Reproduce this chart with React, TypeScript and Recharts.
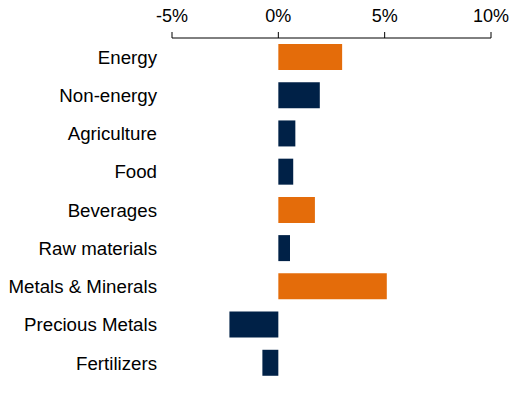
import React from "react";
import { BarChart, Bar, XAxis, YAxis, Cell } from "recharts";

const categories = [
  "Energy",
  "Non-energy",
  "Agriculture",
  "Food",
  "Beverages",
  "Raw materials",
  "Metals & Minerals",
  "Precious Metals",
  "Fertilizers",
];
const values = [3.0, 1.95, 0.8, 0.7, 1.72, 0.55, 5.1, -2.3, -0.75];
const highlighted = ["Energy", "Beverages", "Metals & Minerals"];
const xTicks = [-5, 0, 5, 10];

const ORANGE = "#E46C0A";
const NAVY = "#002147";

const data = categories.map((c, i) => ({ name: c, value: values[i] }));

export default function App() {
  const font = { fontFamily: "'Liberation Sans', Arial, sans-serif", fontSize: 18, fill: "#000" };
  const catFont = { ...font, fontSize: 18.7 };
  return (
    <div style={{ position: "absolute", left: 0, top: 0, background: "#fff" }}>
      <BarChart
        width={519}
        height={398}
        data={data}
        layout="vertical"
        margin={{ top: 0, right: 28, bottom: 16, left: 0 }}
      >
        <XAxis
          type="number"
          orientation="top"
          domain={[-5, 10]}
          ticks={xTicks}
          tickFormatter={(v: number) => `${v}%`}
          height={38}
          tick={font}
          tickSize={6}
          tickMargin={10}
          stroke="#000"
          axisLine={{ stroke: "#000" }}
          tickLine={{ stroke: "#000" }}
          interval={0}
        />
        <YAxis
          type="category"
          dataKey="name"
          width={172}
          tick={catFont}
          axisLine={false}
          tickLine={false}
          tickMargin={9}
          interval={0}
        />
        <Bar dataKey="value" barSize={26} isAnimationActive={false}>
          {data.map((d) => (
            <Cell key={d.name} fill={highlighted.includes(d.name) ? ORANGE : NAVY} />
          ))}
        </Bar>
      </BarChart>
    </div>
  );
}
